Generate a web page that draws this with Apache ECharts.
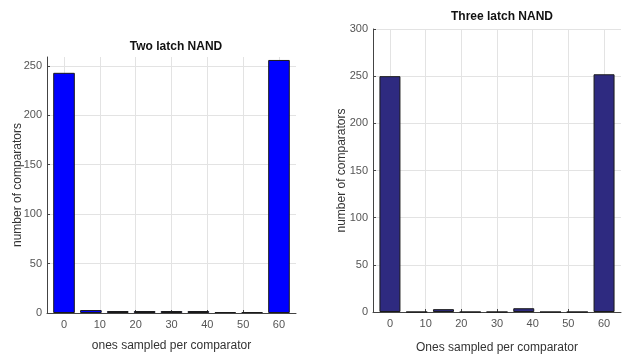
<!DOCTYPE html>
<html>
<head>
<meta charset="utf-8">
<script src="https://cdn.jsdelivr.net/npm/echarts@6/dist/echarts.min.js"></script>
<style>html,body{margin:0;padding:0;background:#fff}#c{width:626px;height:356px}</style>
</head>
<body>
<div id="c"></div>
<script>
var binCenters = [0, 7.5, 15, 22.5, 30, 37.5, 45, 52.5, 60];
var twoLatch = [243, 3, 2, 2, 2, 2, 1, 1, 256];
var threeLatch = [250, 0, 3, 0, 0, 4, 0, 0, 252];
var xTicks = [0, 10, 20, 30, 40, 50, 60];
var leftTitle = 'Two latch NAND';
var rightTitle = 'Three latch NAND';
var leftXName = 'ones sampled per comparator';
var rightXName = 'Ones sampled per comparator';
var yName = 'number of comparators';

function pairs(xs, ys) { return xs.map(function (x, i) { return [x, ys[i]]; }); }

var font = 'Liberation Sans, Arial, sans-serif';
function xAxis(gi, name, gap) {
  return {
    type: 'value', gridIndex: gi, min: -4.75, max: 64.75,
    name: name, nameLocation: 'middle', nameGap: gap, nameMoveOverlap: false,
    nameTextStyle: { fontFamily: font, fontSize: 12, color: '#333' },
    axisLine: { show: true, onZero: false, lineStyle: { color: '#444', width: 1 } },
    axisTick: { show: true, inside: true, length: 3, customValues: xTicks, lineStyle: { color: '#444' } },
    axisLabel: { customValues: xTicks, margin: 6, fontFamily: font, fontSize: 11, color: '#555' },
    splitLine: { show: true, lineStyle: { color: '#e3e3e3', width: 1 } }
  };
}
function yAxis(gi, max, gap, showMax) {
  return {
    type: 'value', gridIndex: gi, min: 0, max: max, interval: 50,
    name: yName, nameLocation: 'middle', nameGap: gap, nameRotate: 90, nameMoveOverlap: false,
    nameTextStyle: { fontFamily: font, fontSize: 12, color: '#333' },
    axisLine: { show: true, onZero: false, lineStyle: { color: '#444', width: 1 } },
    axisTick: { show: true, inside: true, length: 3, lineStyle: { color: '#444' } },
    axisLabel: { margin: 5, fontFamily: font, fontSize: 11, color: '#555' },
    splitLine: { show: true, showMaxLine: showMax, lineStyle: { color: '#e3e3e3', width: 1 } }
  };
}

var chart = echarts.init(document.getElementById('c'), null, { renderer: 'canvas' });
chart.setOption({
  animation: false,
  backgroundColor: '#fff',
  title: [
    { text: leftTitle, left: 171, top: 36, textAlign: 'center',
      textStyle: { fontFamily: font, fontSize: 12, fontWeight: 'bold', color: '#111' } },
    { text: rightTitle, left: 497, top: 6, textAlign: 'center',
      textStyle: { fontFamily: font, fontSize: 12, fontWeight: 'bold', color: '#111' } }
  ],
  grid: [
    { left: 47, right: 330, top: 57, bottom: 43, outerBoundsMode: 'none', containLabel: false },
    { left: 373, right: 5, top: 29, bottom: 44, outerBoundsMode: 'none', containLabel: false }
  ],
  xAxis: [xAxis(0, leftXName, 27), xAxis(1, rightXName, 30)],
  yAxis: [yAxis(0, 259, 23, false), yAxis(1, 300, 25, true)],
  series: [
    { type: 'bar', xAxisIndex: 0, yAxisIndex: 0, barWidth: 21.6,
      data: pairs(binCenters, twoLatch),
      itemStyle: { color: '#0000ff', borderColor: '#1a1a1a', borderWidth: 1 } },
    { type: 'bar', xAxisIndex: 1, yAxisIndex: 1, barWidth: 21,
      data: pairs(binCenters, threeLatch),
      itemStyle: { color: '#2e2a80', borderColor: '#1a1a1a', borderWidth: 1 } }
  ]
});
</script>
</body>
</html>
